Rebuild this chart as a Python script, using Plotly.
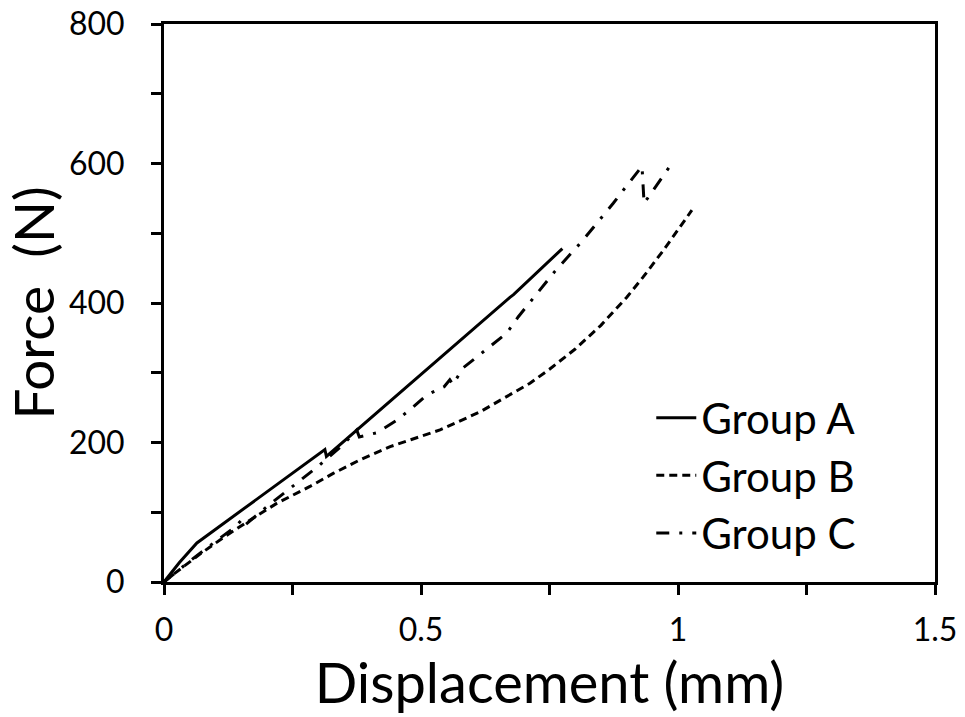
import plotly.graph_objects as go

# ---- data ----
a_x = [0, 0.03, 0.064, 0.313, 0.316, 0.45, 0.6, 0.673, 0.68, 0.775]
a_y = [0, 28, 56, 190, 180, 266, 362, 408, 412, 478]

b_x = [0, 0.02, 0.07, 0.12, 0.17, 0.22, 0.284, 0.33, 0.381, 0.44, 0.48, 0.537,
       0.615, 0.679, 0.712, 0.75, 0.8, 0.85, 0.9, 0.932, 0.97, 1.0, 1.027]
b_y = [0, 12, 40, 66, 90, 113, 137, 156, 175, 194, 204, 218,
       244, 271, 285, 305, 334, 368, 408, 437, 474, 505, 533]

c_x = [0, 0.05, 0.1, 0.14, 0.15, 0.155, 0.2, 0.25, 0.3, 0.35, 0.375, 0.38, 0.414,
       0.453, 0.485, 0.511, 0.545, 0.556, 0.562, 0.582, 0.609, 0.64, 0.667, 0.689,
       0.712, 0.76, 0.815, 0.848, 0.874, 0.897, 0.922, 0.93, 0.934, 0.955, 0.988]
c_y = [0, 30, 58, 80, 88, 80, 108, 137, 166, 198, 218, 208, 214,
       232, 251, 268, 280, 290, 283, 307, 323, 340, 357, 380,
       401, 445, 490, 519, 543, 565, 588, 596, 543, 565, 600]

x_ticks = [0, 0.5, 1, 1.5]
x_labels = ["0", "0.5", "1", "1.5"]
y_ticks = [0, 200, 400, 600, 800]
y_labels = ["0", "200", "400", "600", "800"]

FONT = "Lato"

fig = go.Figure()
fig.add_trace(go.Scatter(x=a_x, y=a_y, mode="lines", name="Group A", legendgroup="A",
                         line=dict(color="black", width=3)))
fig.add_trace(go.Scatter(x=b_x, y=b_y, mode="lines", name="Group B", legendgroup="B",
                         line=dict(color="black", width=3, dash="8px,5px")))
fig.add_trace(go.Scatter(x=c_x, y=c_y, mode="lines", name="Group C", legendgroup="C",
                         line=dict(color="black", width=3, dash="13px,10px,3px,10px")))

axis_common = dict(
    showgrid=False, zeroline=False, showline=True, linecolor="black", linewidth=3,
    mirror=True, ticks="outside", ticklen=10, tickwidth=2.5, tickcolor="black",
    tickfont=dict(family=FONT, size=32, color="black"), automargin=False,
)

fig.update_xaxes(
    range=[0, 1.5], tickvals=x_ticks, ticktext=x_labels,
    minor=dict(tickvals=[0.25, 0.75, 1.25], ticks="outside", ticklen=10, tickwidth=2.5, tickcolor="black"),
    title=dict(text="Displacement (mm)", font=dict(family=FONT, size=56, color="black"), standoff=14),
    ticklabelstandoff=8,
    **axis_common,
)
fig.update_yaxes(
    range=[0, 800], tickvals=y_ticks, ticktext=y_labels,
    minor=dict(tickvals=[100, 300, 500, 700], ticks="outside", ticklen=10, tickwidth=2.5, tickcolor="black"),
    title=dict(text="Force  (N)", font=dict(family=FONT, size=55, color="black"), standoff=10),
    ticklabelstandoff=20,
    **axis_common,
)

fig.update_layout(
    width=965, height=717,
    margin=dict(l=164, r=30, t=24, b=135),
    paper_bgcolor="white", plot_bgcolor="white",
    showlegend=True,
    legend=dict(
        x=0.632, y=0.355, xanchor="left", yanchor="top",
        bgcolor="rgba(0,0,0,0)", font=dict(family=FONT, size=42, color="black"),
        traceorder="grouped", tracegroupgap=0, itemwidth=40,
    ),
)

fig.write_html("out.html")
